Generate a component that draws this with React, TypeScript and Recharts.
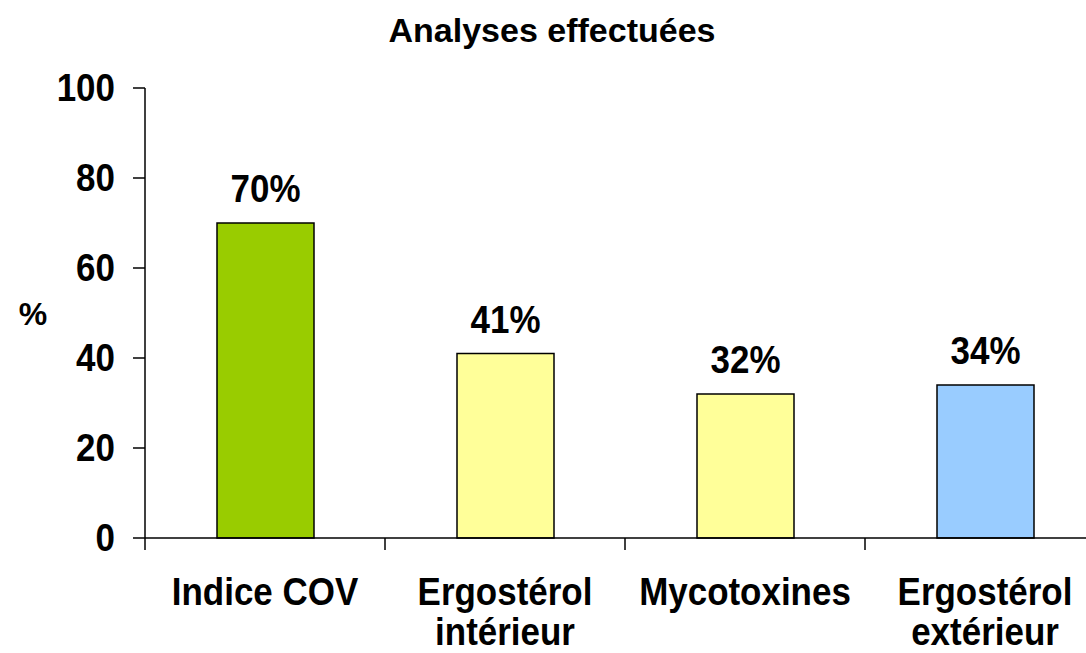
import React from 'react';
import { BarChart, Bar, XAxis, YAxis, Cell, LabelList } from 'recharts';

const categories = ['Indice COV', 'Ergostérol intérieur', 'Mycotoxines', 'Ergostérol extérieur'];
const labelLines = [['Indice COV'], ['Ergostérol', 'intérieur'], ['Mycotoxines'], ['Ergostérol', 'extérieur']];
const values = [70, 41, 32, 34];
const colors = ['#99CC00', '#FFFF99', '#FFFF99', '#99CCFF'];
const yTicks = [0, 20, 40, 60, 80, 100];
const title = 'Analyses effectuées';
const yLabel = '%';

const data = categories.map((c, i) => ({ name: c, value: values[i], idx: i }));

const FONT = '"Liberation Sans", Arial, Helvetica, sans-serif';
const FS = 38;
const SX = 0.92;

const NarrowText = ({ x, y, anchor = 'middle', size = FS, children }: any) => (
  <text
    transform={`translate(${x},${y}) scale(${SX},1)`}
    x={0}
    y={0}
    textAnchor={anchor}
    fontFamily={FONT}
    fontWeight="bold"
    fontSize={size}
    fill="#000"
  >
    {children}
  </text>
);

const XTick = (props: any) => {
  const { x, y, payload } = props;
  const idx = payload?.index ?? categories.indexOf(payload?.value);
  const lines = labelLines[idx] || [String(payload?.value)];
  const off = payload?.offset;
  return (
    <g>
      {typeof off === 'number' && off > 10 ? (
        <line x1={x - off} y1={y} x2={x - off} y2={y + 12} stroke="#000" strokeWidth={1.5} />
      ) : null}
      {lines.map((l: string, i: number) => (
        <NarrowText key={i} x={x} y={y + 67 + i * 40}>
          {l}
        </NarrowText>
      ))}
    </g>
  );
};

const YTick = (props: any) => {
  const { x, y, payload } = props;
  return (
    <NarrowText x={x} y={y + 0.355 * FS} anchor="end">
      {payload?.value}
    </NarrowText>
  );
};

const ValueLabel = (props: any) => {
  const { x, y, width, value } = props;
  return (
    <NarrowText x={x + width / 2} y={y - 21}>
      {value}%
    </NarrowText>
  );
};

const YLab = (props: any) => {
  const vb = props.viewBox || { x: 0, y: 88, width: 145, height: 450 };
  return (
    <text
      x={vb.x + 33}
      y={vb.y + vb.height / 2 + 12}
      textAnchor="middle"
      fontFamily={FONT}
      fontWeight="bold"
      fontSize={32}
      fill="#000"
    >
      {yLabel}
    </text>
  );
};

export default function App() {
  return (
    <div
      style={{
        position: 'absolute',
        left: 0,
        top: 0,
        width: 1086,
        height: 653,
        overflow: 'hidden',
        background: '#fff',
      }}
    >
      <div
        style={{
          position: 'absolute',
          left: 0,
          top: 13,
          width: 1104,
          textAlign: 'center',
          fontFamily: FONT,
          fontWeight: 'bold',
          fontSize: 34,
          lineHeight: '34px',
          color: '#000',
        }}
      >
        {title}
      </div>
      <BarChart
        width={1106}
        height={653}
        data={data}
        margin={{ top: 88, right: 1, left: 0, bottom: 0 }}
        barSize={97}
      >
        <XAxis
          dataKey="name"
          type="category"
          height={115}
          tickLine={false}
          tickSize={0}
          tickMargin={0}
          axisLine={{ stroke: '#000', strokeWidth: 1.5 }}
          tick={<XTick />}
          interval={0}
        />
        <YAxis
          type="number"
          domain={[0, 100]}
          ticks={yTicks}
          width={145}
          tickSize={12}
          tickMargin={18}
          axisLine={{ stroke: '#000', strokeWidth: 1.5 }}
          tickLine={{ stroke: '#000', strokeWidth: 1.5 }}
          tick={<YTick />}
          label={<YLab />}
        />
        <Bar dataKey="value" isAnimationActive={false} stroke="#000" strokeWidth={1.5}>
          {data.map((d, i) => (
            <Cell key={d.name} fill={colors[i]} />
          ))}
          <LabelList dataKey="value" content={<ValueLabel />} />
        </Bar>
      </BarChart>
    </div>
  );
}
